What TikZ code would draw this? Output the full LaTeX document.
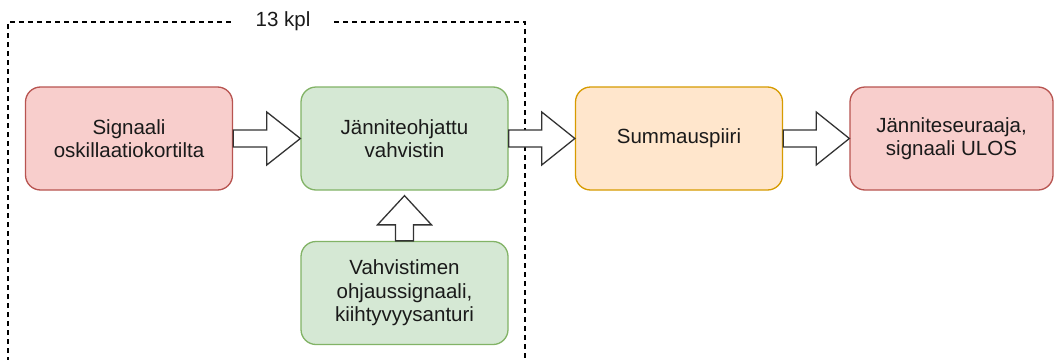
\documentclass[tikz,border=0pt]{standalone}
\usepackage{fontspec}
\setmainfont{Liberation Sans}
\usetikzlibrary{calc}

\definecolor{redfill}{HTML}{F8CECC}
\definecolor{redline}{HTML}{B85450}
\definecolor{greenfill}{HTML}{D5E8D4}
\definecolor{greenline}{HTML}{82B366}
\definecolor{orangefill}{HTML}{FFE6CC}
\definecolor{orangeline}{HTML}{D79B00}
\definecolor{inkcol}{HTML}{1A1A1A}
\definecolor{arrowcol}{HTML}{333333}

% horizontal block arrow from the east side of #1 to the west side of #2
\newcommand\hblockarrow[2]{%
  \draw[blockarrow] let \p1=(#1.east), \p2=(#2.west), \p3=($(\p1)!0.5!(\p2)$) in
    (\x1,\y1+8.5pt) -- (\x3,\y1+8.5pt) -- (\x3,\y1+26.5pt) -- (\x2,\y1)
    -- (\x3,\y1-26.5pt) -- (\x3,\y1-8.5pt) -- (\x1,\y1-8.5pt) -- cycle;}

\begin{document}
\begin{tikzpicture}[x=1pt,y=1pt,
  block/.style={draw, rounded corners=15pt, line width=1.3pt,
    minimum width=207pt, minimum height=103pt, inner sep=0pt,
    align=center, text=inkcol, font=\fontsize{20.5}{23.5}\selectfont},
  redbox/.style={block, fill=redfill, draw=redline},
  greenbox/.style={block, fill=greenfill, draw=greenline},
  orangebox/.style={block, fill=orangefill, draw=orangeline},
  blockarrow/.style={draw=arrowcol, fill=white, line width=1.3pt, line join=miter},
  frame/.style={draw=black, line width=1.2pt, dash pattern=on 5pt off 4pt},
  framelabel/.style={fill=white, minimum width=100pt, inner sep=2pt,
    text=inkcol, font=\fontsize{20.5}{23.5}\selectfont}]

\clip (0,0) rectangle (1055,-359);
\fill[white] (0,0) rectangle (1055,-359);

% dashed group frame, open at the bottom
\draw[frame] (8,-380) -- (8,-22) -- (525,-22) -- (525,-380);
\node[framelabel] (count) at (283,-21) {13 kpl};

% blocks
\node[redbox]    (sig) at (129,-138.5)   {Signaali\\oskillaatiokortilta};
\node[greenbox]  (amp) at (404.5,-138.5) {Jänniteohjattu\\vahvistin};
\node[greenbox]  (ctl) at (404.5,-293)   {Vahvistimen\\ohjaussignaali,\\kiihtyvyysanturi};
\node[orangebox] (sum) at (679,-138.5)   {Summauspiiri};
\node[redbox, minimum width=203pt] (out) at (951.5,-138.5) {Jänniteseuraaja,\\signaali ULOS};

% block arrows
\hblockarrow{sig}{amp}
\hblockarrow{amp}{sum}
\hblockarrow{sum}{out}

\draw[blockarrow] let \p1=(ctl.north), \p2=(amp.south) in
  (\x1-9pt,\y1) -- (\x1-9pt,\y1+16pt) -- (\x1-27pt,\y1+16pt) -- (\x1,\y2-5pt)
  -- (\x1+27pt,\y1+16pt) -- (\x1+9pt,\y1+16pt) -- (\x1+9pt,\y1) -- cycle;

\end{tikzpicture}
\end{document}
